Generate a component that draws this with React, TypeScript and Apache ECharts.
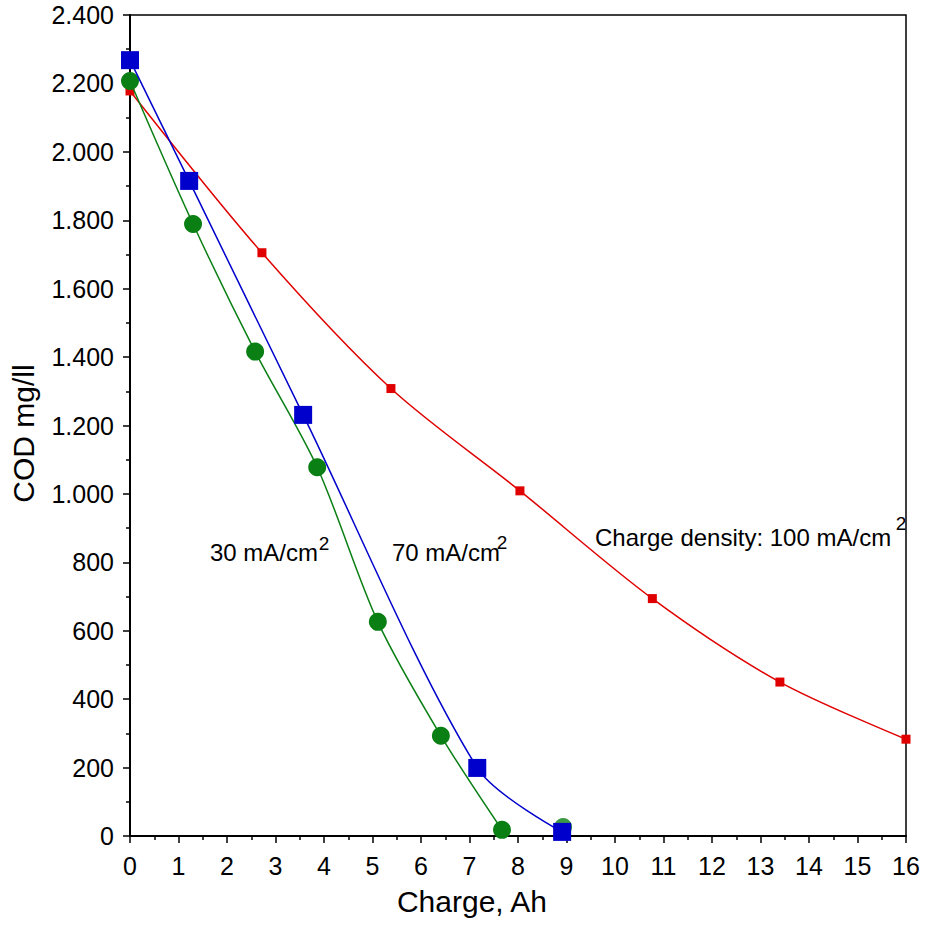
import React, { useEffect, useRef } from "react";
import * as echarts from "echarts";

// 30 mA/cm2 (green circles), connected by the line
const charge30 = [0, 1.3, 2.58, 3.86, 5.11, 6.41, 7.67];
const cod30 = [2207, 1789, 1416, 1078, 626, 293, 18];
// 30 mA/cm2 last measurement (hidden behind the blue square, not joined)
const charge30Extra = [8.93];
const cod30Extra = [26];

// 70 mA/cm2 (blue squares)
const charge70 = [0, 1.22, 3.57, 7.16, 8.91];
const cod70 = [2268, 1915, 1231, 199, 12];

// 100 mA/cm2 (red small squares)
const charge100 = [0, 2.72, 5.38, 8.04, 10.77, 13.4, 16];
const cod100 = [2178, 1705, 1308, 1009, 694, 450, 283];

const xTicks = { min: 0, max: 16, interval: 1 };
const yTicks = { min: 0, max: 2400, interval: 200 };

const FONT = '"Liberation Sans", Arial, Helvetica, sans-serif';

const pairs = (xs: number[], ys: number[]) => xs.map((x, i) => [x, ys[i]]);

const fmtY = (v: number) => {
  if (v >= 1000) {
    const t = Math.floor(v / 1000);
    const r = String(v % 1000).padStart(3, "0");
    return `${t}.${r}`;
  }
  return String(v);
};

const GREEN = "#0a7f14";
const BLUE = "#0000cc";
const RED = "#e00000";

export default function App() {
  const ref = useRef<HTMLDivElement>(null);
  useEffect(() => {
    document.body.style.margin = "0";
    const chart = echarts.init(ref.current!, null, { renderer: "svg" });
    chart.setOption({
      animation: false,
      backgroundColor: "#ffffff",
      grid: {
        left: 130,
        top: 15,
        right: 22,
        bottom: 91,
        show: true,
        borderColor: "#000",
        borderWidth: 1.5,
        backgroundColor: "transparent",
      },
      xAxis: {
        type: "value",
        min: xTicks.min,
        max: xTicks.max,
        interval: xTicks.interval,
        name: "Charge, Ah",
        nameLocation: "middle",
        nameGap: 50,
        nameTextStyle: { fontSize: 30, fontFamily: FONT, color: "#000", padding: [0, 92, 0, 0] },
        axisLine: { show: true, onZero: false, lineStyle: { color: "#000", width: 2 } },
        axisTick: { show: true, length: 7, lineStyle: { color: "#000", width: 1.5 } },
        minorTick: { show: true, splitNumber: 2, length: 4, lineStyle: { color: "#000", width: 1.5 } },
        splitLine: { show: false },
        minorSplitLine: { show: false },
        axisLabel: { fontSize: 25, fontFamily: FONT, color: "#000", margin: 17 },
      },
      yAxis: {
        type: "value",
        min: yTicks.min,
        max: yTicks.max,
        interval: yTicks.interval,
        name: "COD mg/ll",
        nameLocation: "middle",
        nameGap: 92,
        nameTextStyle: { fontSize: 30, fontFamily: FONT, color: "#000", padding: [0, 16, 0, 0] },
        axisLine: { show: true, onZero: false, lineStyle: { color: "#000", width: 2 } },
        axisTick: { show: true, length: 7, lineStyle: { color: "#000", width: 1.5 } },
        minorTick: { show: true, splitNumber: 2, length: 4, lineStyle: { color: "#000", width: 1.5 } },
        splitLine: { show: false },
        minorSplitLine: { show: false },
        axisLabel: { fontSize: 25, fontFamily: FONT, color: "#000", margin: 16, formatter: fmtY },
      },
      series: [
        {
          name: "100 mA/cm2",
          type: "line",
          data: pairs(charge100, cod100),
          smooth: 0.3,
          symbol: "rect",
          symbolSize: 9,
          itemStyle: { color: RED },
          lineStyle: { color: RED, width: 1.5 },
          z: 2,
        },
        {
          name: "30 mA/cm2",
          type: "line",
          data: pairs(charge30, cod30),
          smooth: 0.3,
          symbol: "circle",
          symbolSize: 18,
          itemStyle: { color: GREEN },
          lineStyle: { color: GREEN, width: 1.5 },
          z: 3,
        },
        {
          name: "30 mA/cm2 (last)",
          type: "scatter",
          data: pairs(charge30Extra, cod30Extra),
          symbol: "circle",
          symbolSize: 18,
          itemStyle: { color: GREEN },
          z: 3,
        },
        {
          name: "70 mA/cm2",
          type: "line",
          data: pairs(charge70, cod70),
          smooth: 0.3,
          symbol: "rect",
          symbolSize: 18,
          itemStyle: { color: BLUE },
          lineStyle: { color: BLUE, width: 1.5 },
          z: 4,
        },
      ],
      graphic: [
        {
          type: "text",
          x: 210,
          y: 552,
          style: { text: "30 mA/cm", fontSize: 24, fontFamily: FONT, fill: "#000", align: "left", verticalAlign: "middle" },
        },
        {
          type: "text",
          x: 324,
          y: 543,
          style: { text: "2", fontSize: 19, fontFamily: FONT, fill: "#000", align: "center", verticalAlign: "middle" },
        },
        {
          type: "text",
          x: 392,
          y: 552,
          style: { text: "70 mA/cm", fontSize: 24, fontFamily: FONT, fill: "#000", align: "left", verticalAlign: "middle" },
        },
        {
          type: "text",
          x: 502,
          y: 542,
          style: { text: "2", fontSize: 19, fontFamily: FONT, fill: "#000", align: "center", verticalAlign: "middle" },
        },
        {
          type: "text",
          x: 595,
          y: 537,
          style: { text: "Charge density: 100 mA/cm", fontSize: 24, fontFamily: FONT, fill: "#000", align: "left", verticalAlign: "middle" },
        },
        {
          type: "text",
          x: 901,
          y: 523,
          style: { text: "2", fontSize: 19, fontFamily: FONT, fill: "#000", align: "center", verticalAlign: "middle" },
        },
      ],
    });
    return () => chart.dispose();
  }, []);
  return <div ref={ref} style={{ width: 928, height: 927 }} />;
}
